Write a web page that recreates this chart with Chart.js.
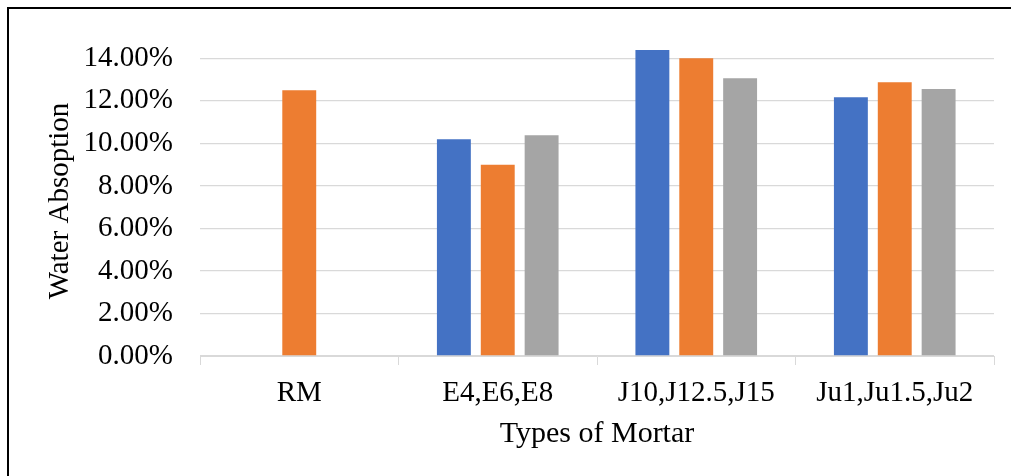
<!DOCTYPE html>
<html lang="en">
<head>
    <meta charset="UTF-8">
    <title>Water Absorption by Types of Mortar</title>
    <script src="https://cdn.jsdelivr.net/npm/chart.js"></script>
    <style>
        body {
            margin: 0;
            padding: 0;
            background: #ffffff;
        }
        .wrap {
            position: relative;
            width: 1011px;
            height: 476px;
            overflow: hidden;
        }
        /* only the top and left edges of the frame are inside the picture */
        .frame {
            position: absolute;
            left: 7px;
            top: 7px;
            width: 1100px;
            height: 600px;
            border-top: 2px solid #000;
            border-left: 2px solid #000;
            pointer-events: none;
        }
    </style>
</head>
<body>
    <div class="wrap">
        <canvas id="bar-chart" width="1011" height="476"></canvas>
        <div class="frame"></div>
    </div>

    <script>
        // values (fractions, shown as %)
        const categories = ["RM", "E4,E6,E8", "J10,J12.5,J15", "Ju1,Ju1.5,Ju2"];
        const seriesBlue = [null, 0.1019, 0.1439, 0.1217];
        const seriesOrange = [0.125, 0.0900, 0.1400, 0.1287];
        const seriesGray = [null, 0.1038, 0.1306, 0.1256];
        const yTicks = [0, 0.02, 0.04, 0.06, 0.08, 0.10, 0.12, 0.14];

        const serif = "'Liberation Serif', 'Times New Roman', serif";

        const ctx = document.getElementById("bar-chart").getContext("2d");
        new Chart(ctx, {
            type: "bar",
            data: {
                labels: categories,
                datasets: [
                    { label: "Series 1", data: seriesBlue, backgroundColor: "#4472C4" },
                    { label: "Series 2", data: seriesOrange, backgroundColor: "#ED7D31" },
                    { label: "Series 3", data: seriesGray, backgroundColor: "#A5A5A5" }
                ]
            },
            options: {
                responsive: false,
                animation: false,
                layout: { padding: { left: 30, top: 46, right: 17, bottom: 20 } },
                datasets: {
                    bar: { categoryPercentage: 0.663, barPercentage: 0.773 }
                },
                plugins: {
                    legend: { display: false },
                    tooltip: { enabled: false }
                },
                scales: {
                    x: {
                        afterFit: (scale) => { scale.height = 100; },
                        grid: {
                            drawOnChartArea: false,
                            drawTicks: true,
                            tickLength: 9,
                            color: "#d9d9d9"
                        },
                        border: { display: true, color: "#d9d9d9", width: 1 },
                        ticks: {
                            color: "#000",
                            padding: 11,
                            maxRotation: 0,
                            font: { family: serif, size: 29 }
                        },
                        title: {
                            display: true,
                            text: "Types of Mortar",
                            color: "#000",
                            padding: { top: 0, bottom: 4 },
                            font: { family: serif, size: 30 }
                        }
                    },
                    y: {
                        min: 0,
                        max: 0.1458,
                        afterFit: (scale) => { scale.width = 170; },
                        afterBuildTicks: (scale) => {
                            scale.ticks = yTicks.map(v => ({ value: v }));
                        },
                        grid: { color: "#d9d9d9", lineWidth: 1.3, drawTicks: false },
                        border: { display: false },
                        ticks: {
                            padding: 27,
                            color: "#000",
                            font: { family: serif, size: 29 },
                            callback: (v) => (v * 100).toFixed(2) + "%"
                        },
                        title: {
                            display: true,
                            text: "Water Absoption",
                            color: "#000",
                            padding: { top: 13, bottom: 0 },
                            font: { family: serif, size: 29 }
                        }
                    }
                }
            }
        });
    </script>
</body>
</html>
